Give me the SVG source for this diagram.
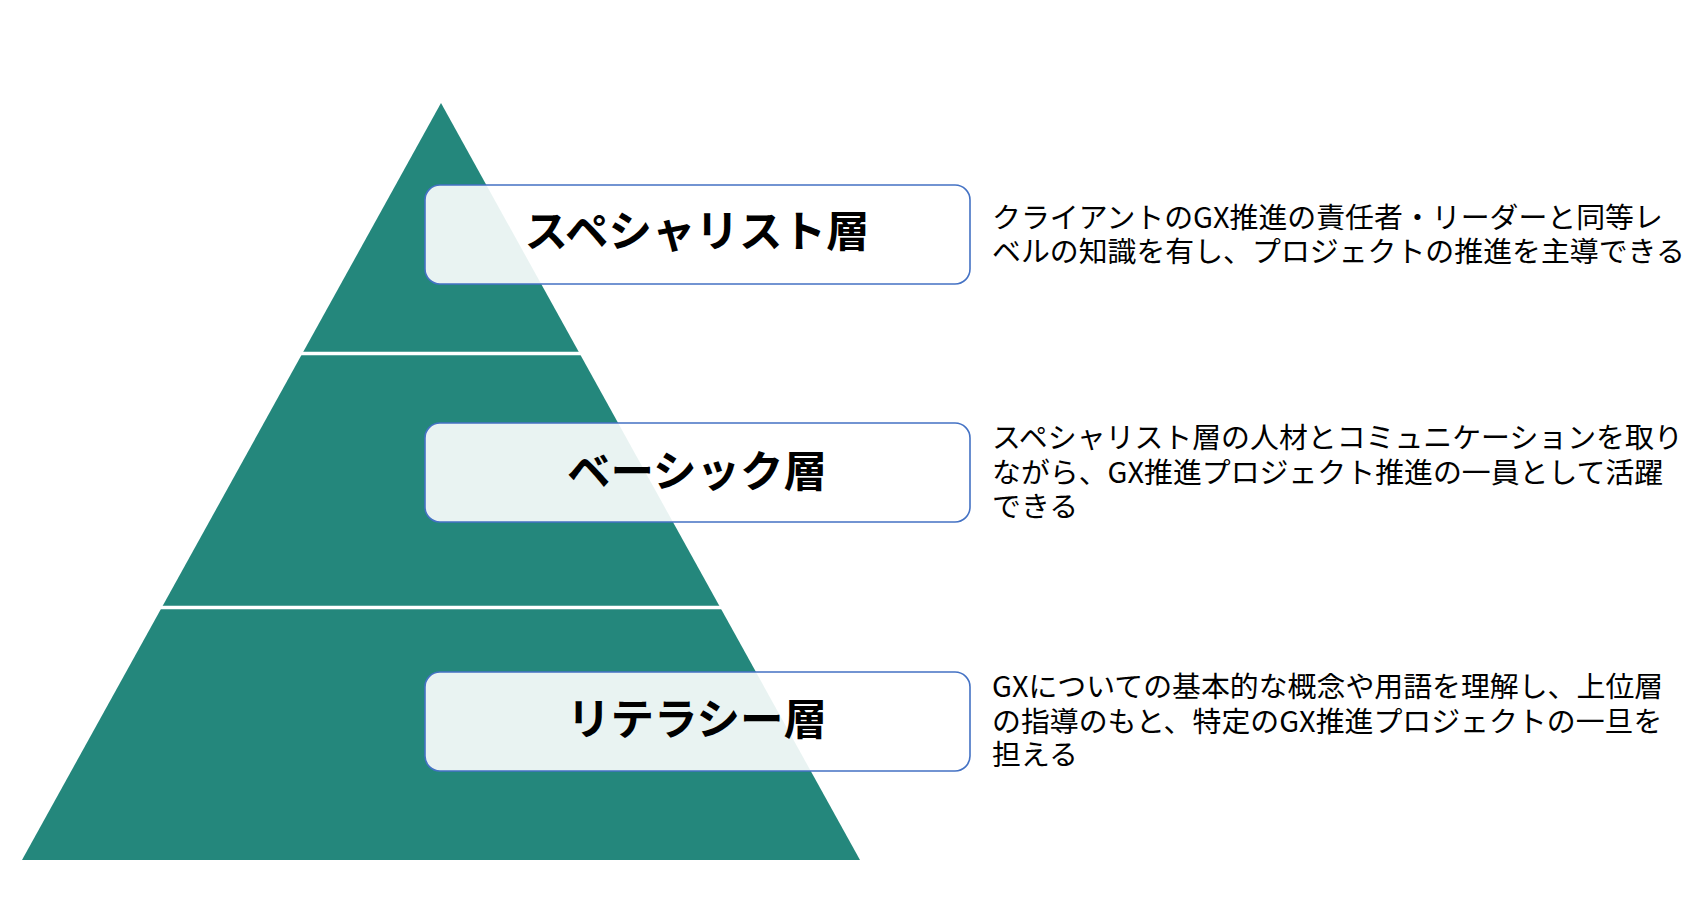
<svg xmlns="http://www.w3.org/2000/svg" width="1695" height="905" viewBox="0 0 1695 905">
<style>
.box{fill:#ffffff;fill-opacity:0.9;stroke:#4472c4;stroke-width:1.6}
.title{font-family:"Noto Sans CJK JP",sans-serif;font-weight:bold;font-size:43.5px;fill:#000;text-anchor:middle}
.desc{font-family:"Noto Sans CJK JP",sans-serif;font-size:28.9px;fill:#000}
.sep{stroke:#ffffff;stroke-width:3.5}
</style>
<rect width="1695" height="905" fill="#ffffff"/>
<g id="pyramid">
<polygon points="441,103 860,860 22,860" fill="#24877c"/>
<line class="sep" x1="200" y1="353.5" x2="700" y2="353.5"/>
<line class="sep" x1="100" y1="607.5" x2="800" y2="607.5"/>
</g>
<g id="node-specialist">
<rect class="box" x="425" y="185" width="545" height="99" rx="15"/>
<text class="title" x="697" y="247">スペシャリスト層</text>
<text class="desc" x="992" y="228">クライアントのGX推進の責任者・リーダーと同等レ</text>
<text class="desc" x="992" y="262">ベルの知識を有し、プロジェクトの推進を主導できる</text>
</g>
<g id="node-basic">
<rect class="box" x="425" y="423" width="545" height="99" rx="15"/>
<text class="title" x="697" y="487">ベーシック層</text>
<text class="desc" x="992" y="448">スペシャリスト層の人材とコミュニケーションを取り</text>
<text class="desc" x="992" y="483">ながら、GX推進プロジェクト推進の一員として活躍</text>
<text class="desc" x="992" y="517">できる</text>
</g>
<g id="node-literacy">
<rect class="box" x="425" y="672" width="545" height="99" rx="15"/>
<text class="title" x="697" y="735">リテラシー層</text>
<text class="desc" x="992" y="697">GXについての基本的な概念や用語を理解し、上位層</text>
<text class="desc" x="992" y="732">の指導のもと、特定のGX推進プロジェクトの一旦を</text>
<text class="desc" x="992" y="765">担える</text>
</g>
<g id="connectors"></g>
</svg>
